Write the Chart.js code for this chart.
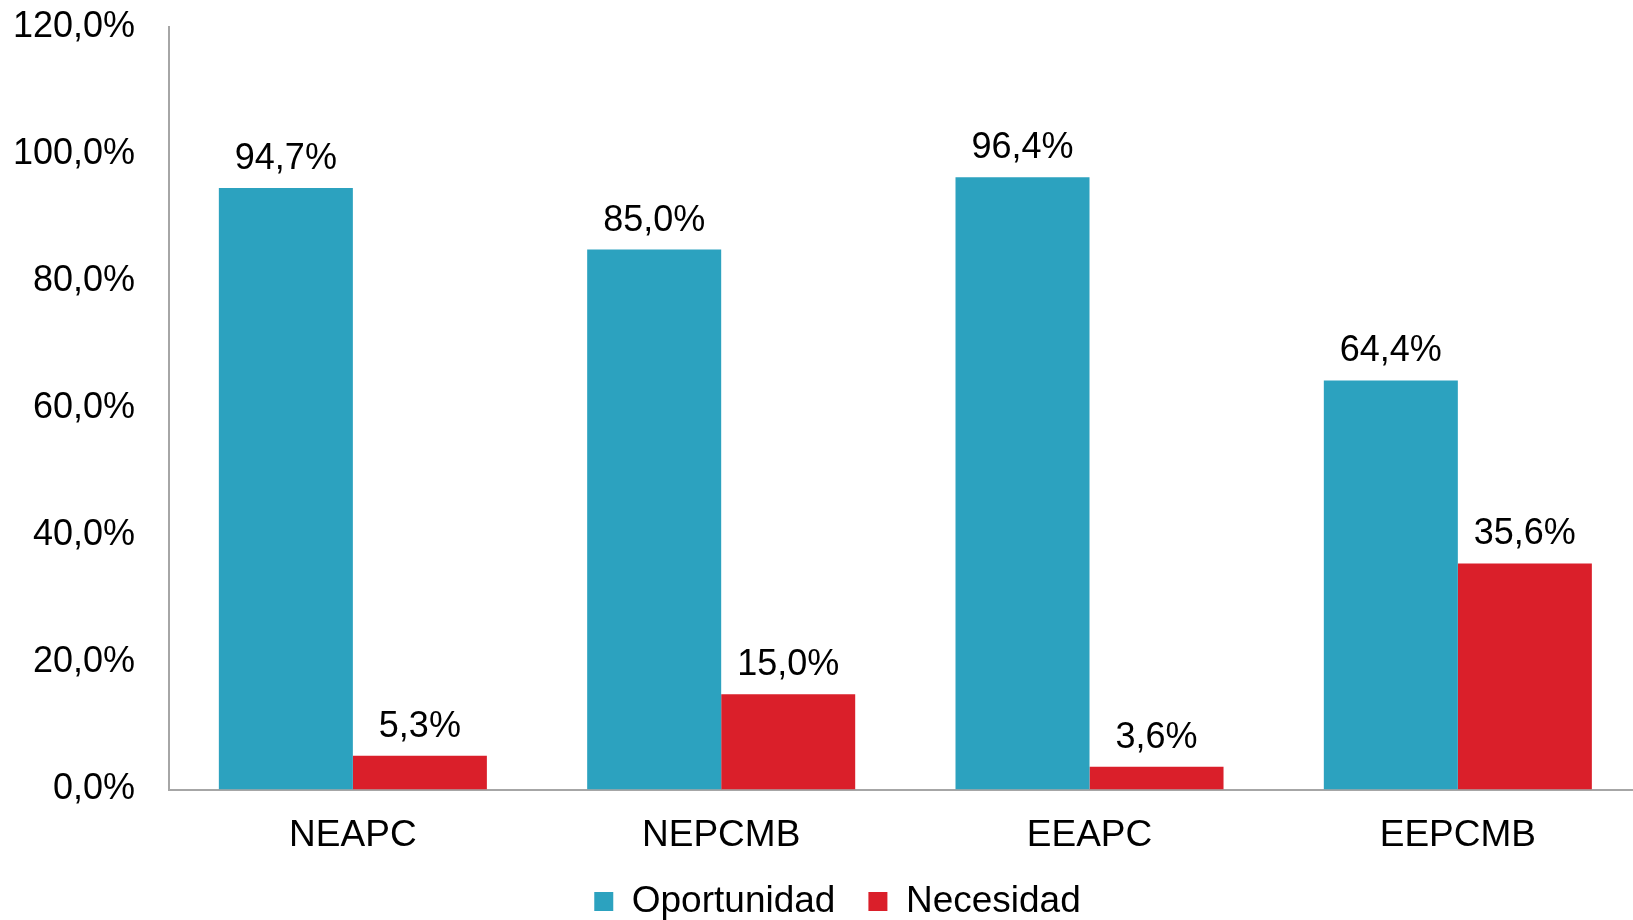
<!DOCTYPE html>
<html>
<head>
<meta charset="utf-8">
<script src="https://cdn.jsdelivr.net/npm/chart.js@4.4.1/dist/chart.umd.min.js"></script>
<style>
html,body{margin:0;padding:0;overflow:hidden;background:#fff;}
#wrap{width:1675px;height:930px;position:relative;}
</style>
</head>
<body>
<div id="wrap"><canvas id="c"></canvas></div>
<script>
const categories = ['NEAPC', 'NEPCMB', 'EEAPC', 'EEPCMB'];
const seriesNames = ['Oportunidad', 'Necesidad'];
const oportunidad = [94.7, 85.0, 96.4, 64.4];
const necesidad = [5.3, 15.0, 3.6, 35.6];
const yMin = 0, yMax = 120, yStep = 20;

const FONT = '"Liberation Sans", Arial, sans-serif';
const fmt = v => v.toFixed(1).replace('.', ',') + '%';

const valueLabels = {
  id: 'valueLabels',
  afterDatasetsDraw(chart) {
    const ctx = chart.ctx;
    ctx.save();
    ctx.font = '36px ' + FONT;
    ctx.fillStyle = '#000';
    ctx.textAlign = 'center';
    ctx.textBaseline = 'alphabetic';
    chart.data.datasets.forEach((ds, i) => {
      chart.getDatasetMeta(i).data.forEach((bar, j) => {
        ctx.fillText(fmt(ds.data[j]), bar.x, bar.y - 19);
      });
    });
    ctx.restore();
  }
};

new Chart(document.getElementById('c'), {
  type: 'bar',
  data: {
    labels: categories,
    datasets: [
      { label: seriesNames[0], data: oportunidad, backgroundColor: '#2CA2BF', borderWidth: 0 },
      { label: seriesNames[1], data: necesidad, backgroundColor: '#DA1F2A', borderWidth: 0 }
    ]
  },
  options: {
    responsive: true,
    maintainAspectRatio: false,
    animation: false,
    layout: { padding: { left: 0, right: 0, top: 27.3, bottom: 0 } },
    datasets: { bar: { categoryPercentage: 0.7277, barPercentage: 1.0 } },
    plugins: {
      legend: {
        position: 'bottom',
        labels: {
          font: { family: FONT, size: 37 },
          color: '#000',
          boxWidth: 19,
          boxHeight: 19,
          padding: 33
        }
      },
      tooltip: { enabled: false }
    },
    scales: {
      x: {
        grid: { display: false, drawTicks: false },
        border: { display: true, color: '#A6A6A6', width: 2 },
        ticks: { font: { family: FONT, size: 37 }, color: '#000', padding: 24, maxRotation: 0 },
        afterFit: s => { s.height = 60.5; }
      },
      y: {
        min: yMin, max: yMax,
        grid: { display: false, drawTicks: true, tickLength: 33.7 },
        border: { display: true, color: '#A6A6A6', width: 2 },
        ticks: { stepSize: yStep, font: { family: FONT, size: 36 }, color: '#000', padding: 0,
                 callback: v => fmt(v) },
        afterFit: s => { s.width = 168.7; }
      },
      spacer: {
        type: 'linear', position: 'right', display: true,
        grid: { display: false, drawTicks: false },
        border: { display: false },
        ticks: { display: false, padding: 0 },
        afterFit: s => { s.width = 33; }
      }
    }
  },
  plugins: [valueLabels]
});
</script>
</body>
</html>
